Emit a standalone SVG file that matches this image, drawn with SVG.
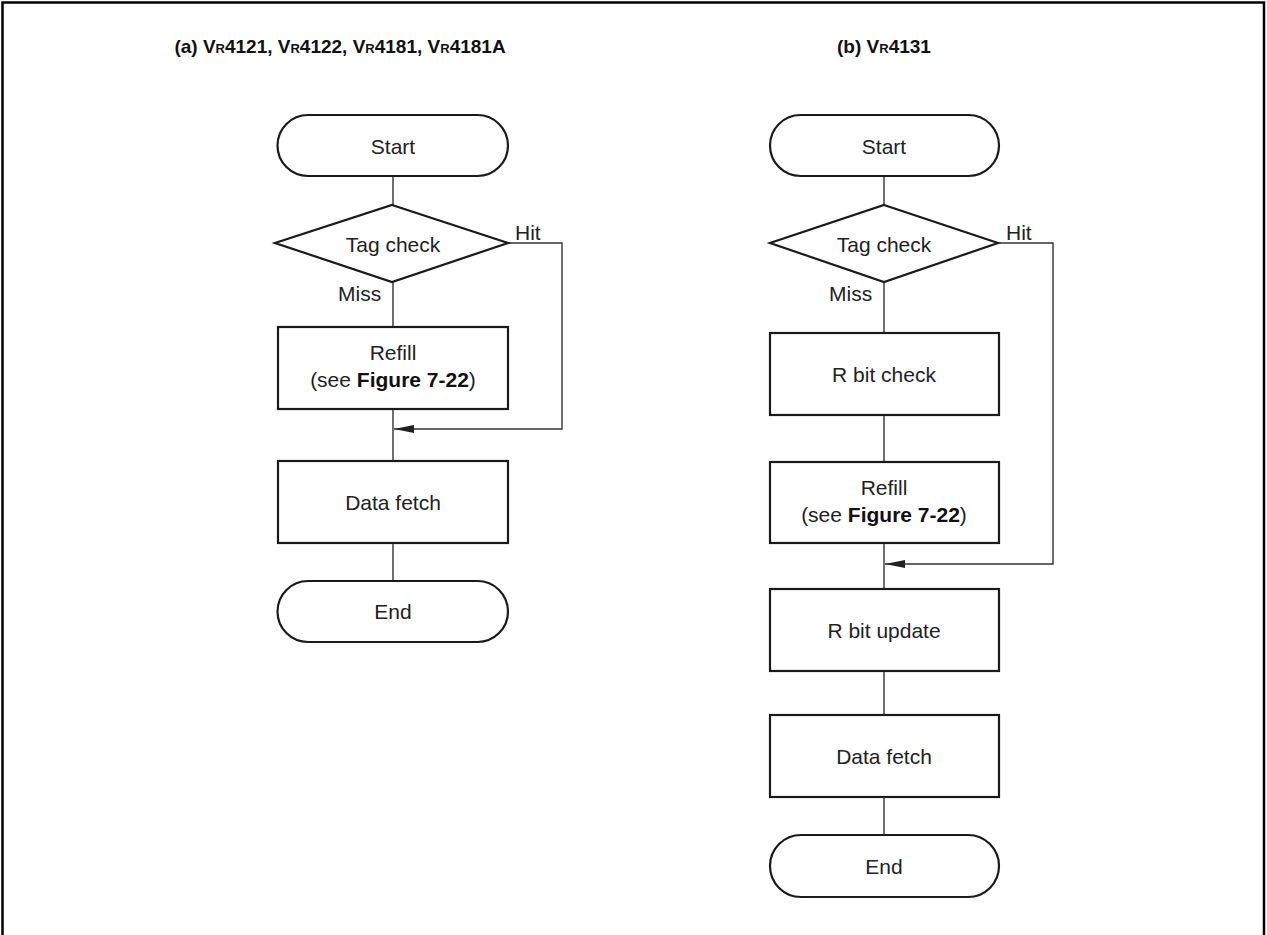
<svg xmlns="http://www.w3.org/2000/svg" width="1267" height="935" viewBox="0 0 1267 935">
<defs>
<style>
.frame{fill:none;stroke:#000;stroke-width:2.5}
.node{fill:#fff;stroke:#1a1a1a;stroke-width:2.2}
.conn{fill:none;stroke:#333;stroke-width:1.4}
.t{font-family:"Liberation Sans",Arial,sans-serif;font-size:21px;fill:#222;text-anchor:middle}
.title{font-family:"Liberation Sans",Arial,sans-serif;font-size:19px;font-weight:bold;fill:#111;text-anchor:middle}
.sub{font-size:13px}
.lbl{font-family:"Liberation Sans",Arial,sans-serif;font-size:21px;fill:#222}
.b{font-weight:bold;fill:#111}
</style>
<marker id="arr" viewBox="0 0 20 8" refX="20" refY="4" markerWidth="20" markerHeight="8" markerUnits="userSpaceOnUse" orient="auto">
<path d="M0,0 L20,4 L0,8 Z" fill="#222"/>
</marker>
</defs>
<rect width="1267" height="935" fill="#fff"/>
<path class="frame" d="M2.5,935 V2.5 H1264 V935"/>
<g id="titles">
<text class="title" x="340" y="53">(a) V<tspan class="sub">R</tspan>4121, V<tspan class="sub">R</tspan>4122, V<tspan class="sub">R</tspan>4181, V<tspan class="sub">R</tspan>4181A</text>
<text class="title" x="884" y="53">(b) V<tspan class="sub">R</tspan>4131</text>
</g>
<g id="connectors">
<line class="conn" x1="393" y1="176" x2="393" y2="205"/>
<line class="conn" x1="393" y1="282" x2="393" y2="327"/>
<line class="conn" x1="393" y1="409" x2="393" y2="461"/>
<line class="conn" x1="393" y1="543" x2="393" y2="581"/>
<path class="conn" d="M508,243 H562 V429 H394" marker-end="url(#arr)"/>
<line class="conn" x1="884" y1="176" x2="884" y2="205"/>
<line class="conn" x1="884" y1="282" x2="884" y2="333"/>
<line class="conn" x1="884" y1="415" x2="884" y2="462"/>
<line class="conn" x1="884" y1="543" x2="884" y2="589"/>
<line class="conn" x1="884" y1="671" x2="884" y2="715"/>
<line class="conn" x1="884" y1="797" x2="884" y2="835"/>
<path class="conn" d="M998,243 H1053 V564 H885" marker-end="url(#arr)"/>
<text class="lbl" x="515" y="240">Hit</text>
<text class="lbl" x="338" y="301">Miss</text>
<text class="lbl" x="1006" y="240">Hit</text>
<text class="lbl" x="829" y="301">Miss</text>
</g>
<g id="a-start"><rect class="node" x="277.5" y="115" width="230.5" height="61" rx="30.5"/><text class="t" x="393" y="154">Start</text></g>
<g id="a-tag"><polygon class="node" points="392,205 508,243 392,282 275,243"/><text class="t" x="393" y="252">Tag check</text></g>
<g id="a-refill"><rect class="node" x="278" y="327" width="230" height="82"/><text class="t" x="393" y="360">Refill</text><text class="t" x="393" y="387">(see <tspan class="b">Figure 7-22</tspan>)</text></g>
<g id="a-fetch"><rect class="node" x="278" y="461" width="230" height="82"/><text class="t" x="393" y="510">Data fetch</text></g>
<g id="a-end"><rect class="node" x="277.5" y="581" width="230.5" height="61" rx="30.5"/><text class="t" x="393" y="619">End</text></g>
<g id="b-start"><rect class="node" x="770" y="115" width="229" height="61" rx="30.5"/><text class="t" x="884" y="154">Start</text></g>
<g id="b-tag"><polygon class="node" points="884,205 998,243 884,282 770,243"/><text class="t" x="884" y="252">Tag check</text></g>
<g id="b-rcheck"><rect class="node" x="770" y="333" width="229" height="82"/><text class="t" x="884" y="382">R bit check</text></g>
<g id="b-refill"><rect class="node" x="770" y="462" width="229" height="81"/><text class="t" x="884" y="495">Refill</text><text class="t" x="884" y="522">(see <tspan class="b">Figure 7-22</tspan>)</text></g>
<g id="b-rupdate"><rect class="node" x="770" y="589" width="229" height="82"/><text class="t" x="884" y="638">R bit update</text></g>
<g id="b-fetch"><rect class="node" x="770" y="715" width="229" height="82"/><text class="t" x="884" y="764">Data fetch</text></g>
<g id="b-end"><rect class="node" x="770" y="835" width="229" height="62" rx="31"/><text class="t" x="884" y="874">End</text></g>
</svg>
